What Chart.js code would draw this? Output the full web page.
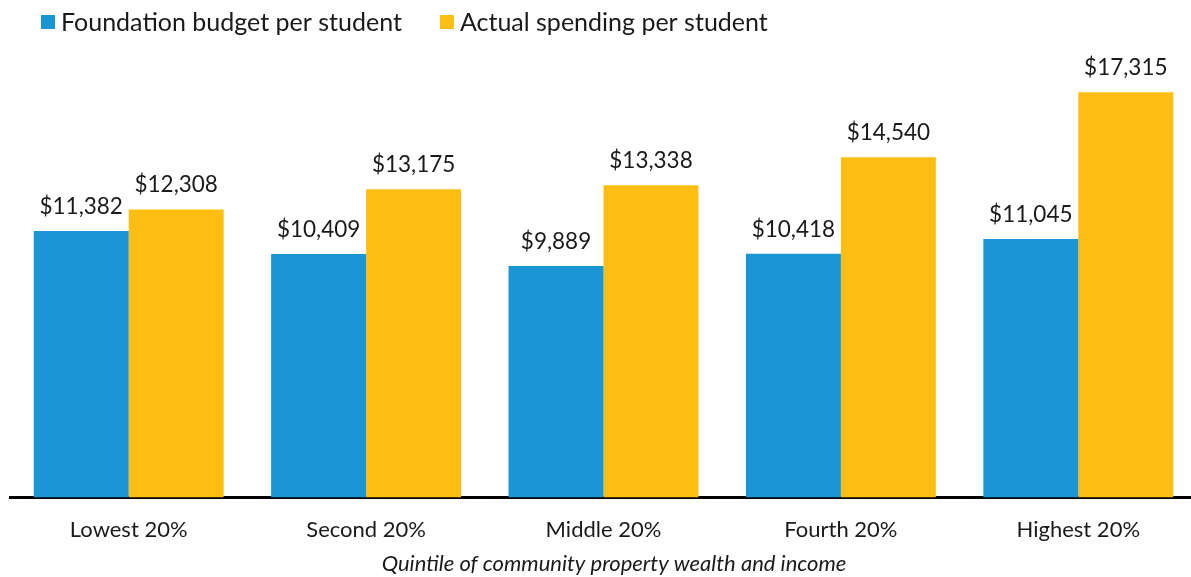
<!DOCTYPE html>
<html>
<head>
<meta charset="utf-8">
<script src="https://cdn.jsdelivr.net/npm/chart.js@4"></script>
<style>
  html, body { margin: 0; padding: 0; background: #fff; overflow: hidden; }
  #wrap { width: 1197px; height: 577px; position: relative; }
</style>
</head>
<body>
<div id="wrap"><canvas id="myChart"></canvas></div>
<script>
// quintiles
var nhom = ['Lowest 20%', 'Second 20%', 'Middle 20%', 'Fourth 20%', 'Highest 20%'];
// dollars per student
var nganSach = [11382, 10409, 9889, 10418, 11045];
var chiTieu = [12308, 13175, 13338, 14540, 17315];
var tieuDeX = 'Quintile of community property wealth and income';

var font = 'Lato, "Open Sans", sans-serif';
var mauChu = '#1a1a1a';

// ghi giá trị lên đầu mỗi cột
var nhanGiaTri = {
    id: 'nhanGiaTri',
    afterDatasetsDraw: function (chart) {
        var ctx = chart.ctx;
        ctx.save();
        ctx.font = '22.5px ' + font;
        ctx.fillStyle = mauChu;
        ctx.textAlign = 'center';
        ctx.textBaseline = 'alphabetic';
        chart.data.datasets.forEach(function (ds, i) {
            chart.getDatasetMeta(i).data.forEach(function (bar, j) {
                ctx.fillText('$' + ds.data[j].toLocaleString('en-US'), bar.x, bar.y - 17);
            });
        });
        ctx.restore();
    }
};

// chú thích và tiêu đề trục x vẽ tay
var chuThich = {
    id: 'chuThich',
    afterDraw: function (chart) {
        var ctx = chart.ctx;
        ctx.save();
        ctx.font = '25px ' + font;
        ctx.textBaseline = 'middle';
        var x = 41;
        chart.data.datasets.forEach(function (ds) {
            ctx.fillStyle = ds.backgroundColor;
            ctx.fillRect(x, 15, 14, 14);
            ctx.fillStyle = mauChu;
            ctx.fillText(ds.label, x + 20, 23);
            x += 20 + ctx.measureText(ds.label).width + 38;
        });
        // tiêu đề trục x, lệch phải một chút
        ctx.font = 'italic 22px ' + font;
        ctx.textAlign = 'center';
        ctx.fillText(tieuDeX, 614, 564);
        ctx.restore();
    }
};

var bieudo = new Chart('myChart', {
    type: 'bar',
    data: {
        labels: nhom,
        datasets: [{
            label: 'Foundation budget per student',
            data: nganSach,
            backgroundColor: '#1996d3'
        }, {
            label: 'Actual spending per student',
            data: chiTieu,
            backgroundColor: '#fdbe14'
        }]
    },
    options: {
        responsive: true,
        maintainAspectRatio: false,
        animation: false,
        layout: { padding: { left: 10, right: 0, top: 60, bottom: 15 } },
        datasets: { bar: { categoryPercentage: 0.8, barPercentage: 1.0 } },
        plugins: {
            legend: { display: false },
            tooltip: { enabled: false }
        },
        scales: {
            x: {
                grid: { display: false, drawTicks: false },
                border: { color: '#000', width: 3 },
                ticks: { color: mauChu, padding: 19, font: { family: font, size: 22 } }
            },
            y: {
                display: false,
                min: 0,
                max: 18690
            }
        }
    },
    plugins: [nhanGiaTri, chuThich]
});
</script>
</body>
</html>
